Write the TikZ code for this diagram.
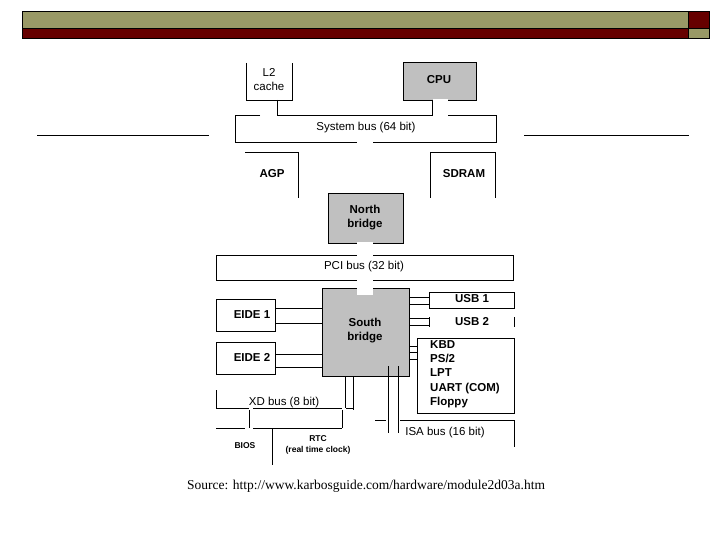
\documentclass[tikz,border=0pt]{standalone}
\usepackage{fontspec}
\setmainfont{Liberation Serif}
\newfontfamily\arialf{Liberation Sans}
\definecolor{olive}{HTML}{999966}
\definecolor{dred}{HTML}{660000}
\definecolor{gbox}{HTML}{C0C0C0}
\begin{document}
\begin{tikzpicture}[x=1pt,y=-1pt,
  ln/.style={black,line width=0.8pt},
  bl/.style={font=\arialf\bfseries\fontsize{11.5}{14}\selectfont,inner sep=0pt},
  nl/.style={font=\arialf\fontsize{11.5}{14}\selectfont,inner sep=0pt},
  sl/.style={font=\arialf\bfseries\fontsize{8.5}{11}\selectfont,inner sep=0pt}]
\useasboundingbox (0,0) rectangle (720,540);
% header
\filldraw[fill=olive,draw=black,line width=1pt] (22,12) rectangle (688,29);
\filldraw[fill=dred,draw=black,line width=1pt] (688,12) rectangle (709,29);
\filldraw[fill=dred,draw=black,line width=1pt] (22,29) rectangle (688,39);
\filldraw[fill=olive,draw=black,line width=1pt] (688,29) rectangle (709,39);
\draw[line width=1pt] (37,136) -- (209,136);
\draw[line width=1pt] (524,136) -- (689,136);
% L2 cache
\draw[ln] (246,63) -- (246,100) -- (292,100) -- (292,63);
\node[nl,align=center] (l2) at (269,80) {L2\\cache};
\draw[ln] (277,100) -- (277,116);
% CPU
\filldraw[fill=gbox,draw=black,line width=0.8pt] (403,62) rectangle (476,100);
\fill[white] (433,99) rectangle (448,101.5);
\node[bl] (cpu) at (439,80) {CPU};
\draw[ln] (432,100) -- (432,116);
% system bus
\draw[ln] (260,115.5) -| (235,142) -- (357,142) (373,142) -| (496,115.5) -- (448,115.5);
\draw[ln] (277,115.5) -- (432,115.5);
\node[nl] (sys) at (366,128) {System bus (64 bit)};
% AGP / SDRAM
\draw[ln] (245,152) -- (298,152) -- (298,198);
\node[bl] (agp) at (272,174) {AGP};
\draw[ln] (430,198) -- (430,152) -- (495,152) -- (495,198);
\node[bl] (sdram) at (464,174) {SDRAM};
% North bridge
\filldraw[fill=gbox,draw=black,line width=0.8pt] (328,193) rectangle (403,243);
\fill[white] (357,241.5) rectangle (373,245);
\node[bl,align=center] (nb) at (365,218) {North\\bridge};
% PCI bus
\draw[ln] (216,255) rectangle (513,280);
\fill[white] (357,254) rectangle (373,256);
\fill[white] (357,279) rectangle (373,281);
\node[nl] (pci) at (364,267) {PCI bus (32 bit)};
% South bridge
\filldraw[fill=gbox,draw=black,line width=0.8pt] (322,288) rectangle (409,376);
\fill[white] (357,286) rectangle (373,295);
\node[bl,align=center] (sb) at (365,331) {South\\bridge};
% EIDE
\draw[ln] (216,299) rectangle (275,331);
\node[bl] (e1) at (252,315) {EIDE 1};
\draw[ln] (275,308) -- (322,308) (275,323) -- (322,323);
\draw[ln] (216,342) rectangle (275,374);
\node[bl] (e2) at (252,357) {EIDE 2};
\draw[ln] (275,354) -- (322,354) (275,367) -- (322,367);
% USB
\draw[ln] (429,292) rectangle (514,308);
\node[bl] (u1) at (472,299) {USB 1};
\draw[ln] (409,297) -- (429,297) (409,304) -- (429,304);
\draw[ln] (429,317) -- (429,327) (514,317) -- (514,327);
\node[bl] (u2) at (472,322) {USB 2};
\draw[ln] (409,318) -- (429,318) (409,325) -- (429,325);
% KBD group
\draw[ln] (417,338) rectangle (514,413);
\draw[ln] (409,346) -- (417,346) (409,352) -- (417,352) (409,359) -- (417,359);
\node[bl,align=left,anchor=north west,font=\arialf\bfseries\fontsize{11.5}{14.3}\selectfont] (kbd) at (430,340) {KBD\\PS/2\\LPT\\UART (COM)\\Floppy};
% XD bus
\draw[ln] (216,390) -- (216,408) -- (249,408) (253,408) -- (342,408) (346,408) -- (353,408);
\draw[ln] (345,376) -- (345,408) (353,376) -- (353,410);
\node[nl] (xd) at (284,403) {XD bus (8 bit)};
\draw[ln] (249,410) -- (249,428) (342,410) -- (342,428);
\draw[ln] (216,428) -- (245,428) (253,428) -- (342,428);
\draw[ln] (272,428) -- (272,465);
\node[sl] (bios) at (245,446) {BIOS};
\node[sl,align=center] (rtc) at (318,445) {RTC\\(real time clock)};
% ISA bus
\draw[ln] (388,366) -- (388,433) (398,366) -- (398,433);
\draw[ln] (375,420) -- (386,420) (400,420) -- (514,420) -- (514,447);
\node[nl] (isa) at (445,433) {ISA bus (16 bit)};
% source
\node[font=\fontsize{13.5}{16}\selectfont,inner sep=0pt] (src) at (366,486) {Source: http://www.karbosguide.com/hardware/module2d03a.htm};
\end{tikzpicture}
\end{document}
